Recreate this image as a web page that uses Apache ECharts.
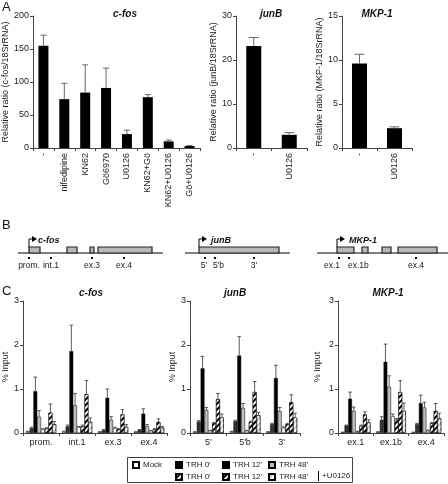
<!DOCTYPE html>
<html><head><meta charset="utf-8">
<script src="https://cdn.jsdelivr.net/npm/echarts@6/dist/echarts.min.js"></script>
<style>html,body{margin:0;padding:0;background:#fff}#c{width:448px;height:484px}</style>
</head><body><div id="c"></div>
<script>
// ---------- Panel A data ----------
const cfosCats = ['-', 'nifedipine', 'KN62', 'Gö6970', 'U0126', 'KN62+Gö', 'KN62+U0126', 'Gö+U0126'];
const cfosVals = [155, 74, 84, 91, 21, 77, 10, 3];
const cfosErr  = [16, 24, 42, 30, 6, 4, 2, 0.6];
const junbCats = ['-', 'U0126'];
const junbVals = [23.2, 3.0];
const junbErr  = [1.9, 0.5];
const mkpCats  = ['-', 'U0126'];
const mkpVals  = [9.6, 2.25];
const mkpErr   = [1.05, 0.15];

// ---------- Panel B data (gene maps, arbitrary map units) ----------
const cfosExons = [[11, 22], [49, 59], [72, 76], [80, 134]];
const cfosLen = 145, cfosTss = 11;
const cfosProbes = [11, 33, 74, 106];
const cfosProbeNames = ['prom.', 'int.1', 'ex.3', 'ex.4'];
const junbExons = [[14, 94]];
const junbLen = 105, junbTss = 14;
const junbProbes = [20, 30, 69];
const junbProbeNames = ["5'", "5'b", "3'"];
const mkpExons = [[20, 37], [45, 51], [65, 74], [81, 120]];
const mkpLen = 131, mkpTss = 20;
const mkpProbes = [22, 32, 99];
const mkpProbeNames = ['ex.1', 'ex.1b', 'ex.4'];

// ---------- Panel C data (% input) ----------
const chipSeries = ["Mock", "TRH 0'", "TRH 12'", "TRH 48'", "Mock +U0126", "TRH 0' +U0126", "TRH 12' +U0126", "TRH 48' +U0126"];
const cfosRegions = ['prom.', 'int.1', 'ex.3', 'ex.4'];
const cfosChip = [
  [0.03, 0.03, 0.02, 0.02],
  [0.11, 0.15, 0.06, 0.07],
  [0.95, 1.86, 0.80, 0.44],
  [0.37, 0.63, 0.30, 0.15],
  [0.08, 0.13, 0.11, 0.05],
  [0.10, 0.15, 0.08, 0.08],
  [0.46, 0.88, 0.42, 0.25],
  [0.20, 0.25, 0.14, 0.12]
];
const cfosChipErr = [
  [0.01, 0.01, 0.01, 0.01],
  [0.02, 0.03, 0.02, 0.01],
  [0.32, 0.59, 0.20, 0.11],
  [0.14, 0.27, 0.07, 0.04],
  [0.02, 0.02, 0.02, 0.01],
  [0.02, 0.03, 0.02, 0.02],
  [0.20, 0.31, 0.11, 0.07],
  [0.06, 0.09, 0.05, 0.03]
];
const junbRegions = ["5'", "5'b", "3'"];
const junbChip = [
  [0.02, 0.03, 0.02],
  [0.26, 0.27, 0.20],
  [1.47, 1.76, 1.25],
  [0.52, 0.57, 0.50],
  [0.05, 0.05, 0.12],
  [0.22, 0.25, 0.20],
  [0.77, 0.93, 0.70],
  [0.35, 0.40, 0.35]
];
const junbChipErr = [
  [0.01, 0.01, 0.01],
  [0.02, 0.02, 0.02],
  [0.27, 0.43, 0.29],
  [0.06, 0.10, 0.08],
  [0.01, 0.01, 0.02],
  [0.02, 0.02, 0.02],
  [0.13, 0.24, 0.17],
  [0.08, 0.07, 0.10]
];
const mkpRegions = ['ex.1', 'ex.1b', 'ex.4'];
const mkpChip = [
  [0.01, 0.02, 0.01],
  [0.17, 0.30, 0.20],
  [0.78, 1.62, 0.68],
  [0.50, 1.05, 0.58],
  [0.03, 0.38, 0.05],
  [0.16, 0.30, 0.22],
  [0.42, 0.93, 0.50],
  [0.24, 0.50, 0.33]
];
const mkpChipErr = [
  [0.01, 0.01, 0.01],
  [0.01, 0.07, 0.02],
  [0.15, 0.40, 0.18],
  [0.09, 0.25, 0.12],
  [0.01, 0.05, 0.02],
  [0.02, 0.03, 0.02],
  [0.06, 0.26, 0.17],
  [0.06, 0.18, 0.12]
];

// ---------- styles ----------
const FONT = '"Liberation Sans", Arial, sans-serif';
const AXC = '#444';
const stripe = { symbol: 'rect', symbolSize: 1, dashArrayX: [1, 0], dashArrayY: [1.5, 2], rotation: -Math.PI / 4, color: '#fff' };
const chipStyles = [
  { color: '#ffffff' }, { color: '#333333' }, { color: '#000000' }, { color: '#bdbdbd' },
  { color: '#ffffff' }, { color: '#111111', decal: stripe }, { color: '#000000', decal: stripe }, { color: '#cfcfcf', decal: stripe }
];
const CAT_GAP = 0.16;
// label alignment for probe names (style only)
const cfosProbeAlign = [['center', 0], ['center', 0], ['center', 0], ['center', 0]];
const junbProbeAlign = [['right', 2], ['left', -2], ['center', 0]];
const mkpProbeAlign = [['right', 1], ['left', -1], ['center', 0]];

function valAxis(gi, min, max, interval, name, gap) {
  return {
    type: 'value', gridIndex: gi, min, max, interval, name, nameLocation: 'middle', nameGap: gap,
    nameTextStyle: { fontSize: 9, color: '#222', fontFamily: FONT },
    axisLine: { show: true, lineStyle: { color: AXC, width: 1 } },
    axisTick: { show: true, length: 3, lineStyle: { color: AXC } },
    axisLabel: { fontSize: 9, color: '#222', margin: 4, fontFamily: FONT },
    splitLine: { show: false }
  };
}
function catAxis(gi, data, rotate, margin) {
  return {
    type: 'category', gridIndex: gi, data,
    axisLine: { show: true, lineStyle: { color: AXC, width: 1 } },
    axisTick: { show: true, length: 3, lineStyle: { color: AXC } },
    axisLabel: { rotate, interval: 0, fontSize: 9, color: '#222', margin, fontFamily: FONT }
  };
}
function hiddenVal(gi, min, max) {
  return { type: 'value', gridIndex: gi, min, max, show: false, splitLine: { show: false } };
}

function errA(capHalf) {
  return function (params, api) {
    const i = api.value(0), v = api.value(1), e = api.value(2);
    const p0 = api.coord([i, v]), p1 = api.coord([i, v + e]);
    const st = { stroke: '#666', lineWidth: 1 };
    return { type: 'group', children: [
      { type: 'line', shape: { x1: p0[0], y1: p0[1], x2: p1[0], y2: p1[1] }, style: st },
      { type: 'line', shape: { x1: p1[0] - capHalf, y1: p1[1], x2: p1[0] + capHalf, y2: p1[1] }, style: st }
    ]};
  };
}
function errC(params, api) {
  const cat = api.value(0), s = api.value(1), v = api.value(2), e = api.value(3);
  const band = api.size([1, 0])[0];
  const bw = band * (1 - CAT_GAP) / 8;
  const cx = api.coord([cat, 0])[0] - band * (1 - CAT_GAP) / 2 + bw * (s + 0.5);
  const y0 = api.coord([cat, v])[1], y1 = api.coord([cat, v + e])[1];
  const st = { stroke: '#333', lineWidth: 0.8 };
  return { type: 'group', children: [
    { type: 'line', shape: { x1: cx, y1: y0, x2: cx, y2: y1 }, style: st },
    { type: 'line', shape: { x1: cx - 1.8, y1: y1, x2: cx + 1.8, y2: y1 }, style: st }
  ]};
}
function geneRender(exons, tss) {
  return function (params, api) {
    const cs = params.coordSys;
    const y0 = api.coord([0, 0])[1];
    const ch = [{ type: 'line', shape: { x1: cs.x, y1: y0, x2: cs.x + cs.width, y2: y0 }, style: { stroke: '#000', lineWidth: 1.2 } }];
    exons.forEach(e => {
      const a = api.coord([e[0], 0])[0], b = api.coord([e[1], 0])[0];
      ch.push({ type: 'rect', shape: { x: a, y: y0 - 6, width: b - a, height: 6 }, style: { fill: '#b8b8b8', stroke: '#222', lineWidth: 1.2 } });
    });
    const t = api.coord([tss, 0])[0];
    ch.push({ type: 'polyline', shape: { points: [[t, y0 - 6], [t, y0 - 14], [t + 3, y0 - 14]] }, style: { stroke: '#000', fill: null, lineWidth: 1 } });
    ch.push({ type: 'polygon', shape: { points: [[t + 3, y0 - 17], [t + 8, y0 - 14], [t + 3, y0 - 11]] }, style: { fill: '#000' } });
    return { type: 'group', children: ch };
  };
}
function probeRender(names, aligns) {
  return function (params, api) {
    const idx = api.value(1);
    const p = api.coord([api.value(0), 0]);
    const al = aligns[idx];
    return { type: 'group', children: [
      { type: 'rect', shape: { x: p[0] - 1, y: p[1] + 4, width: 2, height: 2 }, style: { fill: '#000' } },
      { type: 'text', style: { x: p[0] + al[1], y: p[1] + 8, text: names[idx], fill: '#222', font: '8.5px ' + FONT, textAlign: al[0], textVerticalAlign: 'top' } }
    ]};
  };
}

// ---------- grids ----------
const grid = [
  { left: 33, top: 16, width: 167, height: 132 },
  { left: 236, top: 16, width: 71, height: 132 },
  { left: 342, top: 16, width: 70, height: 132 },
  { left: 18, top: 243, width: 145, height: 20 },
  { left: 185, top: 243, width: 105, height: 20 },
  { left: 317, top: 243, width: 131, height: 20 },
  { left: 21, top: 301, width: 146, height: 132 },
  { left: 190, top: 301, width: 110, height: 132 },
  { left: 338, top: 301, width: 106, height: 132 }
];
const xAxis = [
  catAxis(0, cfosCats, 90, 5), catAxis(1, junbCats, 90, 5), catAxis(2, mkpCats, 90, 5),
  hiddenVal(3, 0, cfosLen), hiddenVal(4, 0, junbLen), hiddenVal(5, 0, mkpLen),
  catAxis(6, cfosRegions, 0, 5), catAxis(7, junbRegions, 0, 5), catAxis(8, mkpRegions, 0, 5)
];
const yAxis = [
  valAxis(0, 0, 200, 50, 'Relative ratio (c-fos/18SrRNA)', 18),
  valAxis(1, 0, 30, 10, 'Relative ratio (junB/18SrRNA)', 18),
  valAxis(2, 0, 15, 5, 'Relative ratio (MKP-1/18SrRNA)', 15),
  hiddenVal(3, -1, 1), hiddenVal(4, -1, 1), hiddenVal(5, -1, 1),
  valAxis(6, 0, 3, 1, '% Input', 13),
  valAxis(7, 0, 3, 1, '% Input', 9),
  valAxis(8, 0, 3, 1, '% Input', 16)
];

const series = [];
function addA(k, vals, errs, bw, cap) {
  series.push({ type: 'bar', xAxisIndex: k, yAxisIndex: k, data: vals, barWidth: bw, itemStyle: { color: '#000' }, silent: true });
  series.push({ type: 'custom', xAxisIndex: k, yAxisIndex: k, renderItem: errA(cap), data: vals.map((v, i) => [i, v, errs[i]]), z: 5, silent: true });
}
addA(0, cfosVals, cfosErr, 10, 3);
addA(1, junbVals, junbErr, 15, 5);
addA(2, mkpVals, mkpErr, 15, 5);

function addB(k, exons, tss, probes, names, aligns) {
  series.push({ type: 'custom', xAxisIndex: k, yAxisIndex: k, renderItem: geneRender(exons, tss), data: [[tss, 0]], silent: true });
  series.push({ type: 'custom', xAxisIndex: k, yAxisIndex: k, renderItem: probeRender(names, aligns), data: probes.map((p, i) => [p, i]), silent: true });
}
addB(3, cfosExons, cfosTss, cfosProbes, cfosProbeNames, cfosProbeAlign);
addB(4, junbExons, junbTss, junbProbes, junbProbeNames, junbProbeAlign);
addB(5, mkpExons, mkpTss, mkpProbes, mkpProbeNames, mkpProbeAlign);

function addC(k, M, E) {
  chipSeries.forEach((name, s) => {
    series.push({
      type: 'bar', name, xAxisIndex: k, yAxisIndex: k, data: M[s], barGap: '0%', barCategoryGap: (CAT_GAP * 100) + '%',
      itemStyle: Object.assign({ borderColor: '#000', borderWidth: 0.5 }, chipStyles[s]), silent: true
    });
  });
  const ed = [];
  M.forEach((row, s) => row.forEach((v, r) => ed.push([r, s, v, E[s][r]])));
  series.push({ type: 'custom', xAxisIndex: k, yAxisIndex: k, renderItem: errC, data: ed, z: 5, silent: true });
}
addC(6, cfosChip, cfosChipErr);
addC(7, junbChip, junbChipErr);
addC(8, mkpChip, mkpChipErr);

function ttl(text, left, top, size, bold, italic, align) {
  return { text, left, top, textAlign: align || 'left', padding: 0,
    textStyle: { fontSize: size, fontWeight: bold ? 'bold' : 'normal', fontStyle: italic ? 'italic' : 'normal', color: '#111', fontFamily: FONT } };
}
const title = [
  ttl('A', 2, 1, 13), ttl('B', 2, 219, 13), ttl('C', 2, 285, 13),
  ttl('c-fos', 125, 9, 10, true, true, 'center'),
  ttl('junB', 271, 9, 10, true, true, 'center'),
  ttl('MKP-1', 377, 9, 10, true, true, 'center'),
  ttl('c-fos', 38, 236, 9, true, true), ttl('junB', 211, 236, 9, true, true), ttl('MKP-1', 349, 236, 9, true, true),
  ttl('c-fos', 91, 288, 10, true, true, 'center'),
  ttl('junB', 235, 288, 10, true, true, 'center'),
  ttl('MKP-1', 388, 288, 10, true, true, 'center')
];

function leg(name, left, top, iconColor) {
  const o = { data: [name], left, top, padding: 0, itemGap: 0, itemWidth: 6, itemHeight: 6, icon: 'rect', selectedMode: false,
    formatter: n => n.replace(' +U0126', ''),
    textStyle: { fontSize: 8, color: '#222', fontFamily: FONT, padding: [0, 0, 0, -1] } };
  if (iconColor) o.itemStyle = { color: iconColor };
  return o;
}
const legend = [
  leg("Mock", 132, 461), leg("TRH 0'", 175, 461, '#000'), leg("TRH 12'", 222, 461), leg("TRH 48'", 268, 461),
  leg("TRH 0' +U0126", 175, 473), leg("TRH 12' +U0126", 222, 473), leg("TRH 48' +U0126", 268, 473)
];

const graphic = [
  { type: 'rect', shape: { x: 127.5, y: 457.5, width: 225, height: 25 }, style: { fill: null, stroke: '#444', lineWidth: 1 } },
  { type: 'line', shape: { x1: 318.5, y1: 471, x2: 318.5, y2: 481 }, style: { stroke: '#000', lineWidth: 1 } },
  { type: 'text', style: { x: 322, y: 476, text: '+U0126', font: '8px ' + FONT, fill: '#222', textVerticalAlign: 'middle' } }
];

const chart = echarts.init(document.getElementById('c'), null, { renderer: 'canvas', width: 448, height: 484 });
chart.setOption({ animation: false, backgroundColor: '#fff', title, legend, grid, xAxis, yAxis, series, graphic });
</script></body></html>
